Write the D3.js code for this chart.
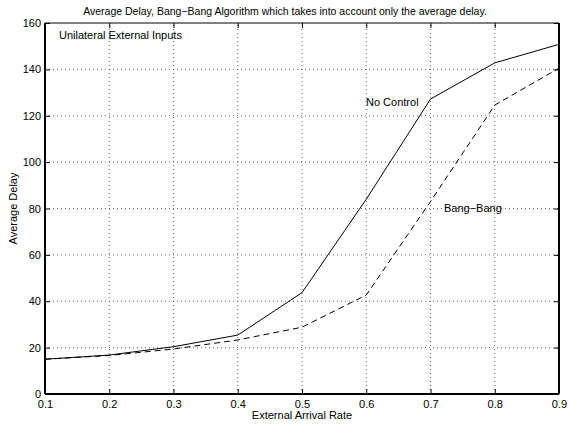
<!DOCTYPE html>
<html>
<head>
<meta charset="utf-8">
<script src="https://cdn.jsdelivr.net/npm/d3@7/dist/d3.min.js"></script>
<style>
  body { margin: 0; background: #fff; }
  svg { display: block; font-family: "Liberation Sans", Arial, Helvetica, sans-serif; }
</style>
</head>
<body>
<svg id="chart" width="569" height="427"></svg>
<script>
// Arrival rates on the x axis
const arrivalRates = [0.1, 0.2, 0.3, 0.4, 0.5, 0.6, 0.7, 0.8, 0.9];
// Average delay without any control
const noControl = [15, 16.8, 20.4, 25.4, 43.7, 84, 127.2, 142.8, 150.8];
// Average delay with the bang-bang controller
const bangBang = [15, 16.6, 19.4, 23.3, 28.8, 42.7, 83, 124.6, 140.5];
// Tick values
const xTicks = [0.1, 0.2, 0.3, 0.4, 0.5, 0.6, 0.7, 0.8, 0.9];
const yTicks = [0, 20, 40, 60, 80, 100, 120, 140, 160];

const svg = d3.select("#chart");
const margin = { left: 45, right: 10, top: 23, bottom: 33 };
const W = 569, H = 427;

const x = d3.scaleLinear().domain([0.1, 0.9]).range([margin.left, W - margin.right]);
const y = d3.scaleLinear().domain([0, 160]).range([H - margin.bottom, margin.top]);

// Dotted grid
const grid = svg.append("g").attr("stroke", "#000").attr("stroke-width", 0.8)
  .attr("stroke-dasharray", "1,3").attr("opacity", 0.75);
grid.selectAll(".gx").data(xTicks.slice(1, -1)).join("line")
  .attr("x1", d => x(d)).attr("x2", d => x(d))
  .attr("y1", y(0)).attr("y2", y(160));
grid.selectAll(".gy").data(yTicks.slice(1, -1)).join("line")
  .attr("y1", d => y(d)).attr("y2", d => y(d))
  .attr("x1", x(0.1)).attr("x2", x(0.9));

// Axes with inward ticks
const fontSize = 11;
const xAxis = svg.append("g").attr("transform", `translate(0,${y(0)})`)
  .call(d3.axisBottom(x).tickValues(xTicks).tickSize(-5).tickPadding(4).tickFormat(d3.format(".1f")));
const xTop = svg.append("g").attr("transform", `translate(0,${y(160)})`)
  .call(d3.axisTop(x).tickValues(xTicks).tickSize(-5).tickFormat(""));
const yAxis = svg.append("g").attr("transform", `translate(${x(0.1)},0)`)
  .call(d3.axisLeft(y).tickValues(yTicks).tickSize(-5).tickPadding(4));
const yRight = svg.append("g").attr("transform", `translate(${x(0.9)},0)`)
  .call(d3.axisRight(y).tickValues(yTicks).tickSize(-5).tickFormat(""));

[xAxis, xTop, yAxis, yRight].forEach(g => {
  g.selectAll(".domain").remove();
  g.selectAll(".tick line").attr("stroke", "#000");
  g.selectAll("text").attr("font-size", fontSize).attr("fill", "#000")
    .attr("font-family", "'Liberation Sans', Arial, sans-serif");
});
xAxis.selectAll("text").attr("dy", "0.9em");

// Frame
svg.append("line").attr("x1", x(0.1)).attr("x2", x(0.9)).attr("y1", y(160)).attr("y2", y(160))
  .attr("stroke", "#000").attr("stroke-width", 1);
svg.append("line").attr("x1", x(0.1)).attr("x2", x(0.9)).attr("y1", y(0)).attr("y2", y(0))
  .attr("stroke", "#000").attr("stroke-width", 2);
svg.append("line").attr("x1", x(0.1)).attr("x2", x(0.1)).attr("y1", y(0)).attr("y2", y(160))
  .attr("stroke", "#000").attr("stroke-width", 2);
svg.append("line").attr("x1", x(0.9)).attr("x2", x(0.9)).attr("y1", y(0)).attr("y2", y(160))
  .attr("stroke", "#000").attr("stroke-width", 2);

// Series lines
const line = d3.line().x((d, i) => x(arrivalRates[i])).y(d => y(d));
svg.append("path").datum(noControl).attr("d", line)
  .attr("fill", "none").attr("stroke", "#000").attr("stroke-width", 1);
svg.append("path").datum(bangBang).attr("d", line)
  .attr("fill", "none").attr("stroke", "#000").attr("stroke-width", 1)
  .attr("stroke-dasharray", "6,4");

// Texts
svg.append("text").attr("x", 285).attr("y", 15).attr("text-anchor", "middle")
  .attr("font-size", 10.5).text("Average Delay, Bang\u2212Bang Algorithm which takes into account only the average delay.");
svg.append("text").attr("x", 59).attr("y", 39).attr("font-size", fontSize)
  .text("Unilateral External Inputs");
svg.append("text").attr("x", 366).attr("y", 106).attr("font-size", fontSize)
  .text("No Control");
svg.append("text").attr("x", 444).attr("y", 212).attr("font-size", fontSize)
  .text("Bang\u2212Bang");
svg.append("text").attr("x", (x(0.1) + x(0.9)) / 2).attr("y", 419).attr("text-anchor", "middle")
  .attr("font-size", fontSize).text("External Arrival Rate");
svg.append("text").attr("transform", `translate(17,${(y(0) + y(160)) / 2}) rotate(-90)`)
  .attr("text-anchor", "middle").attr("font-size", fontSize).text("Average Delay");
</script>
</body>
</html>
